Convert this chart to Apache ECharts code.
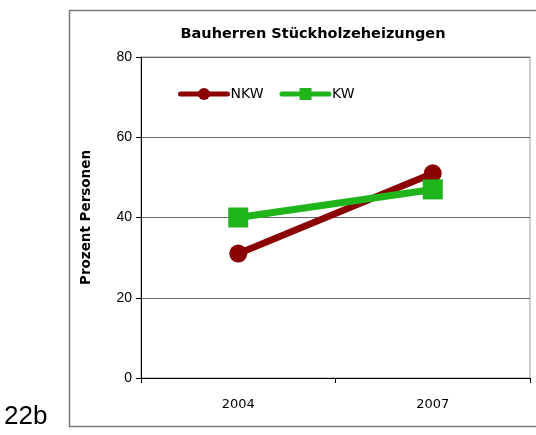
<!DOCTYPE html>
<html>
<head>
<meta charset="utf-8">
<script src="https://cdn.jsdelivr.net/npm/echarts@6/dist/echarts.min.js"></script>
<style>
    html, body { margin: 0; padding: 0; background: #fff; }
    #chart { width: 536px; height: 435px; }
</style>
</head>
<body>
<div id="chart"></div>
<script>
// Daten
var years = ['2004', '2007'];
var nkwValues = [31, 51];
var kwValues = [40, 47];
var yTicks = [0, 20, 40, 60, 80];

var myChart = echarts.init(document.getElementById('chart'));

myChart.setOption({
    animation: false,
    title: {
        text: 'Bauherren Stückholzeheizungen',
        left: 308,
        top: 22,
        textAlign: 'center',
        textStyle: {
            fontFamily: 'DejaVu Sans',
            fontSize: 14.5,
            fontWeight: 'bold',
            color: '#000'
        }
    },
    legend: {
        left: 173,
        top: 82,
        itemWidth: 47,
        itemHeight: 15,
        itemGap: 16,
        lineStyle: { width: 5, cap: 'round' },
        textStyle: { fontFamily: 'DejaVu Sans', fontSize: 14, color: '#000', padding: [0, 0, 0, -2] },
        data: ['NKW', 'KW']
    },
    grid: {
        left: 141,
        top: 57,
        right: 6,
        bottom: 57,
        show: true,
        borderColor: '#999',
        borderWidth: 1
    },
    graphic: [
        {
            type: 'rect',
            shape: { x: 69.5, y: 10.5, width: 480, height: 416 },
            style: { fill: null, stroke: '#777', lineWidth: 1.5 },
            silent: true
        },
        {
            type: 'text',
            left: 4,
            top: 404,
            style: { text: '22b', fontFamily: 'Liberation Sans', fontSize: 26, fill: '#000' }
        }
    ],
    xAxis: {
        type: 'category',
        data: years,
        boundaryGap: true,
        axisLine: { lineStyle: { color: '#000', width: 1 } },
        axisTick: { show: true, length: 5, lineStyle: { color: '#000' } },
        axisLabel: { fontFamily: 'DejaVu Sans', fontSize: 13, color: '#000', margin: 20 }
    },
    yAxis: {
        type: 'value',
        min: yTicks[0],
        max: yTicks[yTicks.length - 1],
        interval: 20,
        name: 'Prozent Personen',
        nameLocation: 'middle',
        nameGap: 48,
        nameTextStyle: { fontFamily: 'DejaVu Sans', fontSize: 13.5, fontWeight: 'bold', color: '#000' },
        axisLine: { show: true, lineStyle: { color: '#000', width: 1 } },
        axisTick: { show: true, length: 5, lineStyle: { color: '#000' } },
        axisLabel: { fontFamily: 'Liberation Sans', fontSize: 14, color: '#000', margin: 9 },
        splitLine: { show: true, lineStyle: { color: '#666', width: 1 } }
    },
    series: [
        {
            name: 'NKW',
            type: 'line',
            data: nkwValues,
            symbol: 'circle',
            symbolSize: 18,
            lineStyle: { color: '#8b0000', width: 7, cap: 'round' },
            itemStyle: { color: '#8b0000' },
            z: 2
        },
        {
            name: 'KW',
            type: 'line',
            data: kwValues,
            symbol: 'rect',
            symbolSize: 20,
            lineStyle: { color: '#1fb51a', width: 7, cap: 'round' },
            itemStyle: { color: '#1fb51a' },
            z: 3
        }
    ]
});
</script>
</body>
</html>
